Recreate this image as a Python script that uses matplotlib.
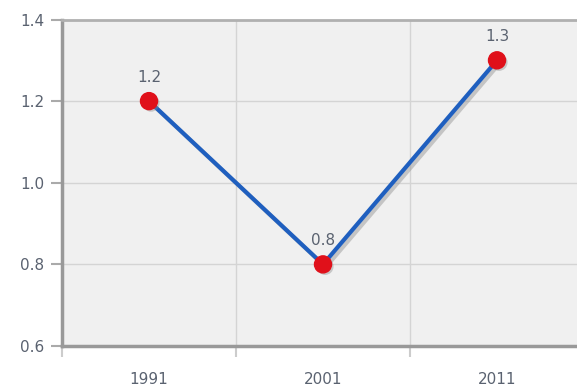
import matplotlib
matplotlib.use("Agg")
import matplotlib.pyplot as plt
import matplotlib.patheffects as pe

years = ["1991", "2001", "2011"]
values = [1.2, 0.8, 1.3]
y_ticks = [0.6, 0.8, 1.0, 1.2, 1.4]

text_col = "#5a6270"

fig = plt.figure(figsize=(5.77, 3.9), dpi=100)
ax = fig.add_axes([62 / 577, 1 - 346 / 390, (584 - 62) / 577, (346 - 19.5) / 390])
ax.set_facecolor("#f0f0f0")

x = list(range(len(years)))
ax.plot(x, values, color="#1f5fbf", lw=3, zorder=3,
        path_effects=[pe.SimpleLineShadow(offset=(2, -2), shadow_color="#999999", alpha=0.5), pe.Normal()])
ax.scatter(x, values, s=150, color="#e0101a", zorder=4,
           path_effects=[pe.SimplePatchShadow(offset=(1.5, -1.5), shadow_rgbFace="#888888", alpha=0.4), pe.Normal()])
for xi, v in zip(x, values):
    ax.annotate(f"{v:.1f}", (xi, v), xytext=(0, 14), textcoords="offset points",
                ha="center", va="baseline", fontsize=11, color=text_col)

ax.set_xlim(-0.5, 2.5)
ax.set_ylim(0.6, 1.4)
ax.set_yticks(y_ticks)
ax.set_yticklabels([f"{t:.1f}" for t in y_ticks])
ax.set_xticks([-0.5, 0.5, 1.5, 2.5], minor=False)
ax.set_xticklabels([])
ax.set_xticks(x, minor=True)
ax.set_xticklabels(years, minor=True)
ax.tick_params(axis="x", which="major", length=8, color="#cccccc", width=1.5)
ax.tick_params(axis="x", which="minor", length=0, pad=19, labelsize=11, labelcolor=text_col)
ax.tick_params(axis="y", length=8, color="#aaaaaa", width=1.5, labelsize=11, labelcolor=text_col, pad=5)

ax.grid(True, which="major", color="#d4d4d4", lw=1)
ax.set_axisbelow(True)

for s in ["left", "bottom"]:
    ax.spines[s].set_color("#999999")
    ax.spines[s].set_linewidth(2.5)
ax.spines["top"].set_color("#b0b0b0")
ax.spines["top"].set_linewidth(2)
ax.spines["right"].set_visible(False)

fig.savefig("out.png", dpi=100)
